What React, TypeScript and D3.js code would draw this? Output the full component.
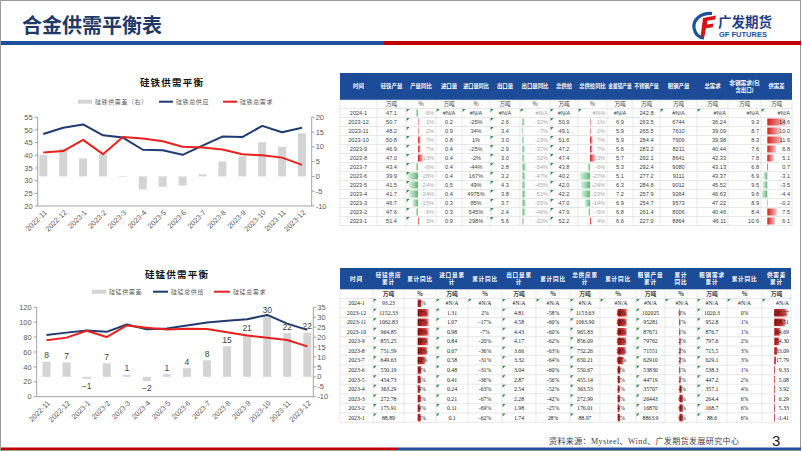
import React from 'react';
import * as d3 from 'd3';

// ---------- chart data ----------
const months = ['2022-11','2022-12','2023-1','2023-2','2023-3','2023-4','2023-5','2023-6','2023-7','2023-8','2023-9','2023-10','2023-11','2023-12'];
const fesiSupply = [48.4, 50.9, 52.2, 47.9, 47.0, 42.2, 42.0, 40.2, 43.8, 47.4, 47.2, 51.6, 49.1, 50.9];
const fesiDemand = [41.1, 41.7, 46.11, 40.46, 47.22, 46.63, 45.52, 43.37, 43.13, 42.33, 40.44, 39.98, 39.09, 36.24];
const fesiGap = [7.2, 9.4, 6.1, 7.5, -0.2, -4.4, -3.5, -3.1, 0.7, 5.1, 6.8, 11.6, 10.0, 14.6];
const simnSupply = [82.8, 86.0, 88.97, 87.04, 96.98, 90.54, 91.61, 95.53, 99.54, 102.05, 103.83, 109.74, 98.07, 89.73];
const simnDemand = [75.7, 79.3, 88.6, 80.1, 95.7, 92.7, 90.1, 91.1, 90.8, 86.4, 82.1, 79.1, 76.1, 67.5];
const simnGap = [7.6, 7.2, -1.0, 6.8, 1.0, -2.2, 1.3, 4.3, 8.3, 15.4, 21.3, 30.4, 22.0, 22.2];
const fesiLeftTicks = [20, 25, 30, 35, 40, 45, 50, 55];
const fesiRightTicks = [-10, -5, 0, 5, 10, 15, 20];
const simnLeftTicks = [0, 20, 40, 60, 80, 100, 120];
const simnRightTicks = [-10, -5, 0, 5, 10, 15, 20, 25, 30, 35];

// ---------- table data ----------
const N = null;
const tableRows = ['2024-1','2023-12','2023-11','2023-10','2023-9','2023-8','2023-7','2023-6','2023-5','2023-4','2023-3','2023-2','2023-1'];
const fesiHeaders = ['时间','硅铁产量','产量同比','进口量','进口量同比','出口量','出口量同比','总供给','总供给同比','金属镁产量','不锈钢产量','粗钢产量','总需求','非钢需求(包|含出口)','供需差'];
const fesiUnits = ['','万吨','%','万吨','%','万吨','%','万吨','%','万吨','万吨','万吨','万吨','万吨','万吨'];
const fesiOutput = [47.1,50.7,48.2,50.8,46.9,47.0,43.4,39.9,41.5,41.7,46.7,47.6,51.4];
const fesiOutputYoy = [-6,1,2,7,7,13,-6,-28,-24,-24,-15,-6,3];
const fesiImport = [N,0.2,0.9,0.8,0.4,0.4,0.4,0.4,0.5,0.4,0.3,0.3,0.9];
const fesiImportYoy = [N,-25,34,1,-25,-2,-44,167,49,4975,85,545,298];
const fesiExport = [N,2.6,3.4,3.0,2.9,3.0,2.8,3.2,4.3,3.8,3.7,2.4,5.6];
const fesiExportYoy = [N,-32,-7,-23,-37,-32,-54,-47,-45,-51,-53,-46,-22];
const fesiTotalSupply = [N,50.9,49.1,51.6,47.2,47.4,43.8,40.2,42.0,42.2,47.0,47.9,52.2];
const fesiTotalSupplyYoy = [N,1,2,7,7,13,-6,-27,-24,-23,-14,-5,4];
const magnesiumOutput = [N,6.9,5.9,5.9,5.6,5.7,5.3,5.1,6.3,7.2,6.9,6.8,6.6];
const stainlessOutput = [242.8,263.5,265.5,284.4,283.2,292.1,292.4,277.2,284.8,257.9,254.7,261.4,227.9];
const crudeSteelOutput = [N,6744,7610,7909,8211,8641,9080,9111,9012,9264,9573,8006,8864];
const fesiTotalDemand = [N,36.24,39.09,39.98,40.44,42.33,43.13,43.37,45.52,46.63,47.22,40.46,46.11];
const nonSteelDemand = [N,9.3,8.7,8.3,7.6,7.8,6.8,6.9,9.5,9.6,8.9,8.4,10.6];
const fesiBalance = [N,14.6,10.0,11.6,6.8,5.1,0.7,-3.1,-3.5,-4.4,-0.2,7.5,6.1];

const simnHeaders = ['时间','硅锰供应|累计','累计同比','进口量累|计','累计同比','出口量累|计','累计同比','总供应累|计','累计同比','粗钢产量|累计','累计|同比','粗钢需求|累计','累计同比','供需差|累计'];
const simnUnits = ['','万吨','%','万吨','%','万吨','%','万吨','%','万吨','%','万吨','%','万吨'];
const simnSupplyCum = [93.23,1152.33,1062.83,964.85,855.25,751.59,649.63,550.19,454.73,363.29,272.78,175.91,88.89];
const simnSupplyCumYoy = [6,17,17,17,16,15,12,6,5,4,5,4,5];
const simnImportCum = [N,1.31,1.07,0.98,0.84,0.67,0.58,0.48,0.41,0.24,0.21,0.11,0.1];
const simnImportCumYoy = [N,2,-17,-7,-20,-36,-31,-31,-36,-63,-67,-69,-62];
const simnExportCum = [N,4.81,4.58,4.43,4.17,3.66,3.32,3.04,2.87,2.54,2.28,1.98,1.74];
const simnExportCumYoy = [N,-58,-60,-60,-62,-63,-64,-60,-56,-52,-42,-25,28];
const simnTotalSupplyCum = [N,1153.63,1063.90,965.83,856.09,752.26,650.21,550.67,455.14,363.53,272.99,176.01,88.97];
const simnTotalSupplyCumYoy = [N,19,18,18,17,16,12,6,5,4,5,4,5];
const crudeSteelCum = [N,102025,95281,87671,79762,71551,62910,53830,44719,35707,26443,16870,8863.9];
const crudeSteelCumYoy = [N,0,1,1,2,2,2,1,2,4,6,6,6];
const steelDemandCum = [N,1020.3,952.8,876.7,797.6,715.5,629.1,538.3,447.2,357.1,264.4,168.7,88.6];
const steelDemandCumYoy = [N,0,1,1,2,3,3,1,2,4,6,6,6];
const simnBalanceCum = [N,135.57,118.51,64.69,54.30,33.09,17.79,9.33,5.08,3.92,6.29,5.33,-1.41];

// ---------- styles ----------
const SANS = "'Liberation Sans', Arial, 'Noto Sans CJK SC', sans-serif";
const CJK = "'Noto Sans CJK SC', 'Noto Sans', sans-serif";
const SERIF = "'Liberation Serif', 'Times New Roman', 'Noto Sans CJK SC', serif";
const BLUE = '#1d4f9e';
const HEADER_BLUE = '#1c4b97';
const RED = '#c00000';
const LINE_BLUE = '#1f3b73';
const LINE_RED = '#e8211d';
const BAR_GRAY = '#d4d4d4';

const f1 = (v: number) => v.toFixed(1);
const f2 = (v: number) => v.toFixed(2);
const f0 = (v: number) => v.toFixed(0);
const pct = (v: number) => `${v}%`;
const gen = (v: number) => String(v);

type Bar = { axis: number; scale: number; flipNeg?: boolean; pos: string; neg: string };
type Col = { values: (number | null)[]; fmt: (v: number) => string; align: 'c' | 'r'; color?: string; bar?: Bar; tri?: 'all' | 'first'; tx?: number };

function ComboChart(p: any) {
  const x = d3.scalePoint<string>().domain(p.months).range(p.xRange);
  const yL = d3.scaleLinear().domain(p.leftDomain).range([p.yBot, p.yTop]);
  const yR = d3.scaleLinear().domain(p.rightDomain).range([p.yBot, p.yTop]);
  const mkLine = (arr: number[]) => d3.line<number>().x((_, i) => x(p.months[i])!).y(d => yL(d))(arr) || '';
  const bw = 8;
  const fmtLabel = d3.format('.0f');
  return (
    <g>
      <text x={p.titleX} y={p.titleY} textAnchor="middle" fontFamily={CJK} fontSize={9.5} fontWeight="bold" letterSpacing={1.2} fill="#111">{p.title}</text>
      {p.legend.map((l: any, i: number) => (
        <g key={i}>
          {l.type === 'rect'
            ? <rect x={l.x} y={p.legendY - 2} width={l.w} height={4} fill={BAR_GRAY} />
            : <line x1={l.x} x2={l.x + l.w} y1={p.legendY} y2={p.legendY} stroke={l.color} strokeWidth={2} />}
          <text x={l.x + l.w + 3} y={p.legendY + 2.2} fontFamily={CJK} fontSize={6} letterSpacing={0.6} fill="#595959">{l.label}</text>
        </g>
      ))}
      {p.gap.map((v: number, i: number) => (
        <rect key={i} x={x(p.months[i])! - bw / 2} y={Math.min(yR(0), yR(v))} width={bw} height={Math.max(0.6, Math.abs(yR(v) - yR(0)))} fill={BAR_GRAY} />
      ))}
      <line x1={p.axisL} x2={p.axisL} y1={p.yTop} y2={p.yBot} stroke="#8c8c8c" strokeWidth={0.8} />
      <line x1={p.axisR} x2={p.axisR} y1={p.yTop} y2={p.yBot} stroke="#8c8c8c" strokeWidth={0.8} />
      <line x1={p.axisL} x2={p.axisR} y1={p.yBot} y2={p.yBot} stroke="#8c8c8c" strokeWidth={0.8} />
      {p.leftTicks.map((t: number) => (
        <g key={'l' + t}>
          <line x1={p.axisL - 3} x2={p.axisL} y1={yL(t)} y2={yL(t)} stroke="#8c8c8c" strokeWidth={0.8} />
          <text x={p.axisL - 5} y={yL(t) + 2.6} textAnchor="end" fontFamily={SANS} fontSize={7.5} fill="#595959">{t}</text>
        </g>
      ))}
      {p.rightTicks.map((t: number) => (
        <g key={'r' + t}>
          <line x1={p.axisR} x2={p.axisR + 3} y1={yR(t)} y2={yR(t)} stroke="#8c8c8c" strokeWidth={0.8} />
          <text x={p.axisR + 4} y={yR(t) + 2.6} textAnchor="start" fontFamily={SANS} fontSize={7.5} fill="#595959">{t}</text>
        </g>
      ))}
      {p.months.map((m: string) => (
        <text key={m} transform={`translate(${x(m)! + 4},${p.yBot + 7}) rotate(-45)`} textAnchor="end" fontFamily={SANS} fontSize={7.3} fill="#595959">{m}</text>
      ))}
      <path d={mkLine(p.supply)} fill="none" stroke={LINE_BLUE} strokeWidth={2} strokeLinejoin="round" />
      <path d={mkLine(p.demand)} fill="none" stroke={LINE_RED} strokeWidth={2} strokeLinejoin="round" />
      {p.labels && p.gap.map((v: number, i: number) => (
        <text key={'t' + i} x={x(p.months[i])!} y={v >= 0 ? yR(v) - 3.5 : yR(v) + 10} textAnchor="middle" fontFamily={SANS} fontSize={8.5} fill="#404040">{fmtLabel(v)}</text>
      ))}
    </g>
  );
}

function Table(p: any) {
  const edges: number[] = p.edges;
  const left = edges[0];
  const right = edges[edges.length - 1];
  const headerBottom = p.top + p.headerH;
  const unitBottom = headerBottom + p.unitH;
  const rows: string[] = p.rows;
  const bottom = unitBottom + p.rowH * rows.length;
  const cols: Col[] = p.cols;
  const rowTop = (r: number) => unitBottom + r * p.rowH;
  const hLines = [headerBottom, unitBottom, ...rows.map((_, r) => rowTop(r + 1))];
  return (
    <g>
      <rect x={left} y={p.top} width={right - left} height={p.headerH} fill={HEADER_BLUE} />
      {p.headers.map((h: string, i: number) => {
        const lines = h.split('|');
        const cx = (edges[i] + edges[i + 1]) / 2;
        const colW = edges[i + 1] - edges[i];
        const lh = p.headerSize + 1.6;
        const y0 = p.top + p.headerH / 2 - ((lines.length - 1) * lh) / 2 + p.headerSize * 0.36;
        return (
          <text key={i} textAnchor="middle" fontFamily={CJK} fontSize={p.headerSize} fontWeight="bold" letterSpacing={p.headerSpacing} fill="#fff">
            {lines.map((l, j) => {
              const est = l.length * (p.headerSize + p.headerSpacing);
              const fit = est > colW - 2.5;
              return (
                <tspan key={j} x={cx} y={y0 + j * lh}
                  {...(fit ? { textLength: colW - 2.5, lengthAdjust: 'spacingAndGlyphs' } : {})}>{l}</tspan>
              );
            })}
          </text>
        );
      })}
      {hLines.map((y, i) => <line key={'h' + i} x1={left} x2={right} y1={y} y2={y} stroke="#d9d9d9" strokeWidth={0.6} />)}
      {edges.map((x, i) => <line key={'v' + i} x1={x} x2={x} y1={headerBottom} y2={bottom} stroke="#d9d9d9" strokeWidth={0.6} />)}
      {p.units.map((u: string, i: number) => (
        <text key={'u' + i} x={(edges[i] + edges[i + 1]) / 2} y={headerBottom + p.unitH / 2 + 2} textAnchor="middle" fontFamily={CJK} fontSize={p.bodySize} fontWeight={p.unitBold ? 'bold' : 'normal'} fill="#404040">{u}</text>
      ))}
      {rows.map((r, ri) => (
        <text key={'r' + ri} x={(edges[0] + edges[1]) / 2} y={rowTop(ri) + p.rowH / 2 + 2} textAnchor="middle" fontFamily={p.bodyFont} fontSize={p.bodySize} fill={p.textColor}>{r}</text>
      ))}
      {cols.map((c, ci) => {
        const l = edges[ci + 1];
        const rr = edges[ci + 2];
        return (
          <g key={'c' + ci}>
            {c.values.map((v, ri) => {
              const yt = rowTop(ri);
              const parts: any[] = [];
              if (c.bar && v !== null) {
                const b = c.bar;
                const w = Math.abs(v) * b.scale;
                let bx = b.axis;
                if (v < 0 && !b.flipNeg) bx = Math.max(l + 0.5, b.axis - w);
                const ww = v < 0 && !b.flipNeg ? b.axis - bx : Math.min(w, rr - 0.5 - b.axis);
                parts.push(<rect key="b" x={bx} y={yt + 1} width={Math.max(ww, 0.8)} height={p.rowH - 2} fill={v >= 0 ? b.pos : b.neg} />);
              }
              const txt = v === null ? '#N/A' : c.fmt(v);
              const tx = c.tx !== undefined ? c.tx : c.align === 'r' ? rr - 2 : (l + rr) / 2;
              parts.push(<text key="t" x={tx} y={yt + p.rowH / 2 + 2} textAnchor={c.tx !== undefined ? 'middle' : c.align === 'r' ? 'end' : 'middle'} fontFamily={p.bodyFont} fontSize={p.bodySize} fill={c.color || p.textColor}>{txt}</text>);
              if (c.tri === 'all' || (c.tri === 'first' && ri === 0)) {
                parts.push(<path key="tri" d={`M${l + 0.6},${yt + 0.6} l3,0 l-3,3 Z`} fill="#1f8f3f" />);
              }
              return <g key={ri}>{parts}</g>;
            })}
          </g>
        );
      })}
    </g>
  );
}

export default function App() {
  const fesiCols: Col[] = [
    { values: fesiOutput, fmt: f1, align: 'c' },
    { values: fesiOutputYoy, fmt: pct, align: 'r', color: '#a6a6a6', tri: 'all', bar: { axis: 418, scale: 0.38, pos: 'url(#redG)', neg: 'url(#greenL)' } },
    { values: fesiImport, fmt: f1, align: 'c', tri: 'first' },
    { values: fesiImportYoy, fmt: pct, align: 'c', tri: 'first' },
    { values: fesiExport, fmt: f1, align: 'c', tri: 'all' },
    { values: fesiExportYoy, fmt: pct, align: 'r', color: '#a6a6a6', tri: 'first', bar: { axis: 522.5, scale: 0.06, flipNeg: true, pos: 'url(#redG)', neg: 'url(#greenR)' } },
    { values: fesiTotalSupply, fmt: f1, align: 'c', tri: 'all' },
    { values: fesiTotalSupplyYoy, fmt: pct, align: 'r', color: '#a6a6a6', tri: 'first', bar: { axis: 590, scale: 0.38, pos: 'url(#redG)', neg: 'url(#greenL)' } },
    { values: magnesiumOutput, fmt: f1, align: 'c' },
    { values: stainlessOutput, fmt: f1, align: 'c' },
    { values: crudeSteelOutput, fmt: f0, align: 'c', tri: 'first' },
    { values: fesiTotalDemand, fmt: f2, align: 'r', tri: 'first' },
    { values: nonSteelDemand, fmt: f1, align: 'r' },
    { values: fesiBalance, fmt: f1, align: 'r', tri: 'first', bar: { axis: 767.3, scale: 1.27, pos: 'url(#redG)', neg: 'url(#greenL)' } },
  ];
  const simnCols: Col[] = [
    { values: simnSupplyCum, fmt: f2, align: 'c', tri: 'all' },
    { values: simnSupplyCumYoy, fmt: pct, align: 'c', tx: 422, bar: { axis: 417.7, scale: 0.65, pos: 'url(#darkRedG)', neg: 'url(#darkRedG)' } },
    { values: simnImportCum, fmt: gen, align: 'c', tri: 'all' },
    { values: simnImportCumYoy, fmt: pct, align: 'c', tri: 'first' },
    { values: simnExportCum, fmt: f2, align: 'c', tri: 'all' },
    { values: simnExportCumYoy, fmt: pct, align: 'c', tri: 'first' },
    { values: simnTotalSupplyCum, fmt: f2, align: 'c', tri: 'all' },
    { values: simnTotalSupplyCumYoy, fmt: pct, align: 'c', tx: 621, tri: 'first', bar: { axis: 617.7, scale: 0.5, pos: 'url(#darkRedG)', neg: 'url(#darkRedG)' } },
    { values: crudeSteelCum, fmt: gen, align: 'c', tri: 'all' },
    { values: crudeSteelCumYoy, fmt: pct, align: 'c', tx: 682, tri: 'first', bar: { axis: 679.5, scale: 0.6, pos: 'url(#darkRedG)', neg: 'url(#darkRedG)' } },
    { values: steelDemandCum, fmt: gen, align: 'c', tri: 'all' },
    { values: steelDemandCumYoy, fmt: pct, align: 'c', tri: 'first' },
    { values: simnBalanceCum, fmt: f2, align: 'r', tri: 'first', bar: { axis: 774.3, scale: 0.095, pos: 'url(#darkRedG)', neg: 'url(#darkRedG)' } },
  ];

  return (
    <svg width={802} height={451} viewBox="0 0 802 451" style={{ position: 'absolute', left: 0, top: 0, background: '#fff' }}>
      <defs>
        <linearGradient id="redG" x1="0" x2="1" y1="0" y2="0">
          <stop offset="0" stopColor="#d51f1f" />
          <stop offset="1" stopColor="#f6c3c3" />
        </linearGradient>
        <linearGradient id="darkRedG" x1="0" x2="1" y1="0" y2="0">
          <stop offset="0" stopColor="#a80a0a" />
          <stop offset="0.7" stopColor="#c83a3a" />
          <stop offset="1" stopColor="#eba0a0" />
        </linearGradient>
        <linearGradient id="greenL" x1="1" x2="0" y1="0" y2="0">
          <stop offset="0" stopColor="#5fb874" />
          <stop offset="1" stopColor="#e2f2e6" />
        </linearGradient>
        <linearGradient id="greenR" x1="0" x2="1" y1="0" y2="0">
          <stop offset="0" stopColor="#5fb874" />
          <stop offset="1" stopColor="#c8e8d0" />
        </linearGradient>
      </defs>
      <rect x={0} y={0} width={802} height={451} fill="#fff" />
      <rect x={0.5} y={0.5} width={800} height={450} fill="none" stroke="#9a9a9a" strokeWidth={1} />

      {/* header */}
      <text x={22} y={33} fontFamily={CJK} fontSize={20} fontWeight="bold" fill="#1f3868">合金供需平衡表</text>
      <rect x={1} y={41} width={383} height={4} fill={BLUE} />
      <rect x={384} y={41} width={417} height={4} fill={RED} />
      {/* logo */}
      <path d="M712,13.5 C700,13 693,20 694,28 C695,34 699,37.5 704,38" fill="none" stroke={BLUE} strokeWidth={3.2} />
      <path d="M703,18 L716,15.5 L715,19.5 L707.5,20.8 L706.8,24.5 L713.5,23.5 L712.8,27.3 L706,28.3 L704.3,37 L700.5,37 Z" fill="#d7141a" />
      <text x={718} y={27} fontFamily={CJK} fontSize={13.5} fontWeight="bold" fill="#1f3f86">广发期货</text>
      <text x={719} y={37} fontFamily={SANS} fontSize={7.5} fontWeight="bold" fill={BLUE}>GF FUTURES</text>

      <ComboChart
        title="硅铁供需平衡" titleX={172} titleY={86} legendY={101.7}
        legend={[
          { type: 'rect', x: 78, w: 14, label: '硅铁供需差（右）' },
          { type: 'line', x: 159, w: 14, color: LINE_BLUE, label: '硅铁总供应' },
          { type: 'line', x: 223, w: 14, color: LINE_RED, label: '硅铁总需求' },
        ]}
        months={months} supply={fesiSupply} demand={fesiDemand} gap={fesiGap}
        xRange={[43.3, 302]} axisL={37.7} axisR={311.7} yTop={117.3} yBot={206}
        leftDomain={[20, 55]} leftTicks={fesiLeftTicks} rightDomain={[-10, 20]} rightTicks={fesiRightTicks}
        labels={false}
      />
      <ComboChart
        title="硅锰供需平衡" titleX={177} titleY={277.5} legendY={291.7}
        legend={[
          { type: 'rect', x: 92, w: 14, label: '硅锰供需差' },
          { type: 'line', x: 153, w: 15, color: LINE_BLUE, label: '硅锰总供给' },
          { type: 'line', x: 214, w: 16, color: LINE_RED, label: '硅锰总需求' },
        ]}
        months={months} supply={simnSupply} demand={simnDemand} gap={simnGap}
        xRange={[46.5, 307.3]} axisL={36.7} axisR={313.3} yTop={307.3} yBot={396.7}
        leftDomain={[0, 120]} leftTicks={simnLeftTicks} rightDomain={[-10, 35]} rightTicks={simnRightTicks}
        labels={true}
      />

      <Table
        edges={[340, 377, 406, 436, 462, 490, 520, 550, 578, 607, 633, 660, 697, 728, 761, 792]}
        top={73} headerH={27} unitH={8.5} rowH={9}
        headers={fesiHeaders} units={fesiUnits} rows={tableRows} cols={fesiCols}
        headerSize={5.4} headerSpacing={0} bodyFont={SANS} bodySize={5.6} textColor="#404040"
      />
      <Table
        edges={[340, 373, 404, 436, 468, 502, 536, 570, 600, 636, 665, 697, 727, 762, 791]}
        top={268} headerH={21.5} unitH={9} rowH={9.53}
        headers={simnHeaders} units={simnUnits} rows={tableRows} cols={simnCols}
        headerSize={5.6} headerSpacing={0.8} bodyFont={SERIF} bodySize={5.8} textColor="#1a1a1a" unitBold={true}
      />

      {/* footer */}
      <rect x={1} y={447.5} width={396} height={2.5} fill={RED} />
      <rect x={397} y={447.5} width={404} height={2.5} fill={BLUE} />
      <text x={549} y={443.5} fontFamily={SERIF} fontSize={8} letterSpacing={0.4} fill="#404040">资料来源：Mysteel、Wind、广发期货发展研究中心</text>
      <text x={772} y={446} fontFamily={SANS} fontSize={15} fill="#222">3</text>
    </svg>
  );
}
